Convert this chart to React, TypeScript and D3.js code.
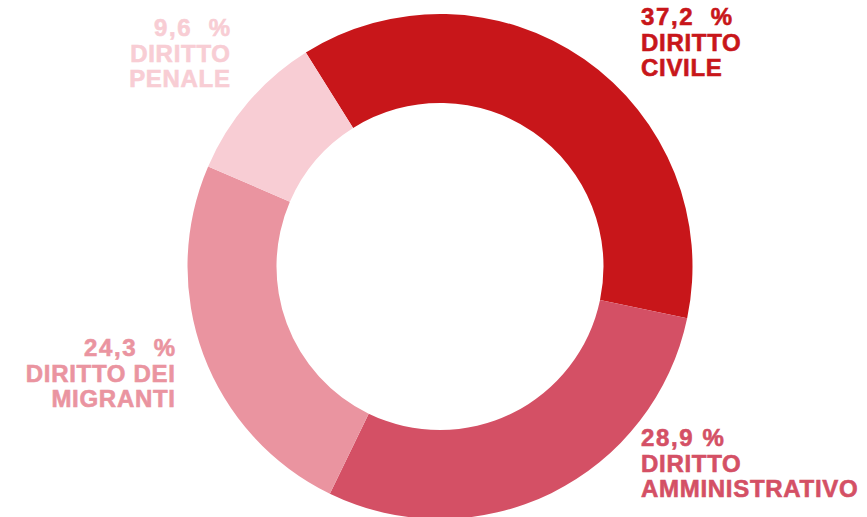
import React from "react";
import * as d3 from "d3";

const categories = ["DIRITTO CIVILE", "DIRITTO AMMINISTRATIVO", "DIRITTO DEI MIGRANTI", "DIRITTO PENALE"];
const values = [37.2, 28.9, 24.3, 9.6];
const valueLabels = ["37,2\u00A0\u00A0%", "28,9\u00A0%", "24,3\u00A0\u00A0%", "9,6\u00A0\u00A0%"];
const labelLines = [["DIRITTO", "CIVILE"], ["DIRITTO", "AMMINISTRATIVO"], ["DIRITTO DEI", "MIGRANTI"], ["DIRITTO", "PENALE"]];
const colors = ["#c8161a", "#d45065", "#ea94a0", "#f8cdd4"];

const W = 867;
const H = 517;
const cx = 440;
const cy = 266.5;
const outerR = 252.5;
const innerR = 163.5;
const startDeg = -32.1;

const labelPos = [
  { x: 641, y: 25, anchor: "start" },
  { x: 641, y: 446, anchor: "start" },
  { x: 175, y: 356, anchor: "end" },
  { x: 230, y: 36, anchor: "end" },
];

export default function App() {
  const start = (startDeg * Math.PI) / 180;
  const pie = d3
    .pie<number>()
    .sort(null)
    .value((d) => d)
    .startAngle(start)
    .endAngle(start + 2 * Math.PI);
  const arcs = pie(values);
  const arc = d3.arc<d3.PieArcDatum<number>>().innerRadius(innerR).outerRadius(outerR);
  const lh = 25.5;
  const lsNum = 1.6;
  const lsTxt = 0.7;
  return (
    <svg
      width={W}
      height={H}
      style={{ position: "absolute", left: 0, top: 0, background: "#fff" }}
    >
      <g transform={`translate(${cx},${cy})`}>
        {arcs.map((a, i) => (
          <path key={categories[i]} d={arc(a) || ""} fill={colors[i]} />
        ))}
      </g>
      {labelPos.map((p, i) => {
        const isEnd = p.anchor === "end";
        return (
          <text
            key={categories[i]}
            textAnchor={p.anchor as any}
            fill={colors[i]}
            stroke={colors[i]}
            strokeWidth={0.6}
            fontFamily="'Liberation Sans', Arial, Helvetica, sans-serif"
            fontWeight="bold"
            fontSize={24}
          >
            <tspan x={p.x + (isEnd ? lsNum : 0)} y={p.y} letterSpacing={lsNum}>
              {valueLabels[i]}
            </tspan>
            {labelLines[i].map((l, j) => (
              <tspan
                key={j}
                x={p.x + (isEnd ? lsTxt : 0)}
                y={p.y + lh * (j + 1)}
                letterSpacing={lsTxt}
              >
                {l}
              </tspan>
            ))}
          </text>
        );
      })}
    </svg>
  );
}
